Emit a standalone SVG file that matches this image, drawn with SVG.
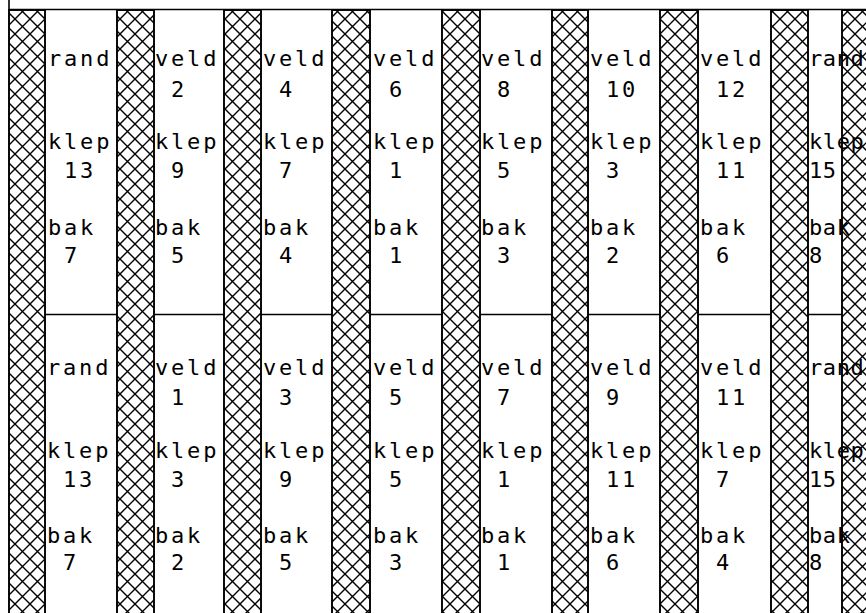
<svg xmlns="http://www.w3.org/2000/svg" width="866" height="613" viewBox="0 0 866 613">
<defs>
<pattern id="xh" patternUnits="userSpaceOnUse" width="15" height="15" x="0" y="4">
<path d="M0,0 L15,15 M15,0 L0,15 M-2,13 L2,17 M13,-2 L17,2 M-2,2 L2,-2 M13,17 L17,13" stroke="#000" stroke-width="1.4" fill="none"/>
</pattern>
<style>
.w{fill:url(#xh);stroke:#000;stroke-width:1.9}
.ln{stroke:#000;stroke-width:1.6;fill:none}
text{font-family:"DejaVu Sans Mono","Liberation Mono",monospace;font-size:22px;letter-spacing:2.8px;fill:#000}
.n{letter-spacing:0.6px}
</style>
</defs>
<rect width="866" height="613" fill="#fff"/>
<g id="walls">
<rect class="w" x="9" y="10" width="36" height="610"/>
<rect class="w" x="117" y="10" width="37" height="610"/>
<rect class="w" x="224" y="10" width="37" height="610"/>
<rect class="w" x="332" y="10" width="38" height="610"/>
<rect class="w" x="442" y="10" width="38" height="610"/>
<rect class="w" x="552" y="10" width="36" height="610"/>
<rect class="w" x="660" y="10" width="38" height="610"/>
<rect class="w" x="771" y="10" width="37" height="610"/>
<rect class="w" x="842" y="10" width="30" height="610"/>
</g>
<g id="lines">
<path class="ln" d="M9,0 V10 M9,9.5 H866"/>
<path class="ln" d="M45,314.5 H117 M154,314.5 H224 M261,314.5 H332 M370,314.5 H442 M480,314.5 H552 M588,314.5 H660 M698,314.5 H771 M808,314.5 H842"/>
</g>
<g id="top-A"><text x="48" y="66">rand</text><text x="48" y="149">klep</text><text x="64" y="178">13</text><text x="48" y="235">bak</text><text x="64" y="263">7</text></g>
<g id="top-B"><text x="155" y="66">veld</text><text x="171" y="97">2</text><text x="155" y="149">klep</text><text x="171" y="178">9</text><text x="155" y="235">bak</text><text x="171" y="263">5</text></g>
<g id="top-C"><text x="263" y="66">veld</text><text x="279" y="97">4</text><text x="263" y="149">klep</text><text x="279" y="178">7</text><text x="263" y="235">bak</text><text x="279" y="263">4</text></g>
<g id="top-D"><text x="373" y="66">veld</text><text x="389" y="97">6</text><text x="373" y="149">klep</text><text x="389" y="178">1</text><text x="373" y="235">bak</text><text x="389" y="263">1</text></g>
<g id="top-E"><text x="481" y="66">veld</text><text x="497" y="97">8</text><text x="481" y="149">klep</text><text x="497" y="178">5</text><text x="481" y="235">bak</text><text x="497" y="263">3</text></g>
<g id="top-F"><text x="590" y="66">veld</text><text x="606" y="97">10</text><text x="590" y="149">klep</text><text x="606" y="178">3</text><text x="590" y="235">bak</text><text x="606" y="263">2</text></g>
<g id="top-G"><text x="700" y="66">veld</text><text x="716" y="97">12</text><text x="700" y="149">klep</text><text x="716" y="178">11</text><text x="700" y="235">bak</text><text x="716" y="263">6</text></g>
<g id="top-H"><text class="n" x="809" y="66">rand</text><text class="n" x="809" y="149">klep</text><text class="n" x="809" y="178">15</text><text class="n" x="809" y="235">bak</text><text class="n" x="809" y="263">8</text></g>
<g id="bot-A"><text x="47" y="375">rand</text><text x="47" y="458">klep</text><text x="63" y="487">13</text><text x="47" y="543">bak</text><text x="63" y="570">7</text></g>
<g id="bot-B"><text x="155" y="375">veld</text><text x="171" y="405">1</text><text x="155" y="458">klep</text><text x="171" y="487">3</text><text x="155" y="543">bak</text><text x="171" y="570">2</text></g>
<g id="bot-C"><text x="263" y="375">veld</text><text x="279" y="405">3</text><text x="263" y="458">klep</text><text x="279" y="487">9</text><text x="263" y="543">bak</text><text x="279" y="570">5</text></g>
<g id="bot-D"><text x="373" y="375">veld</text><text x="389" y="405">5</text><text x="373" y="458">klep</text><text x="389" y="487">5</text><text x="373" y="543">bak</text><text x="389" y="570">3</text></g>
<g id="bot-E"><text x="481" y="375">veld</text><text x="497" y="405">7</text><text x="481" y="458">klep</text><text x="497" y="487">1</text><text x="481" y="543">bak</text><text x="497" y="570">1</text></g>
<g id="bot-F"><text x="590" y="375">veld</text><text x="606" y="405">9</text><text x="590" y="458">klep</text><text x="606" y="487">11</text><text x="590" y="543">bak</text><text x="606" y="570">6</text></g>
<g id="bot-G"><text x="700" y="375">veld</text><text x="716" y="405">11</text><text x="700" y="458">klep</text><text x="716" y="487">7</text><text x="700" y="543">bak</text><text x="716" y="570">4</text></g>
<g id="bot-H"><text class="n" x="809" y="375">rand</text><text class="n" x="809" y="458">klep</text><text class="n" x="809" y="487">15</text><text class="n" x="809" y="543">bak</text><text class="n" x="809" y="570">8</text></g>
</svg>
